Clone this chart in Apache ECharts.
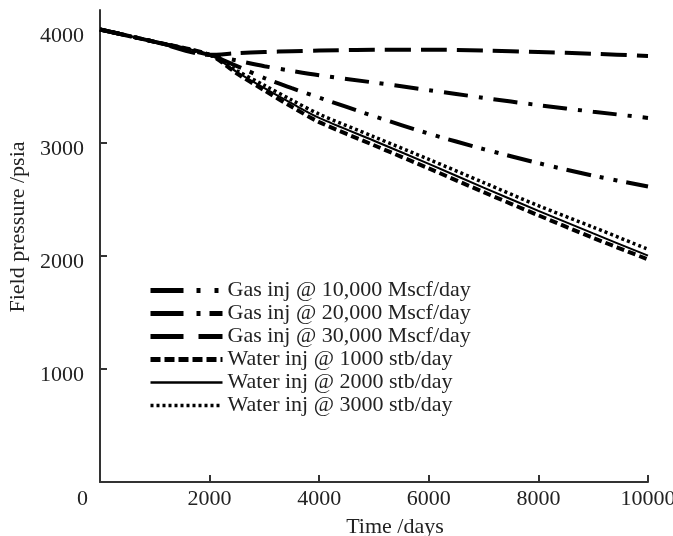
<!DOCTYPE html>
<html>
<head>
<meta charset="utf-8">
<script src="https://cdn.jsdelivr.net/npm/echarts@6/dist/echarts.min.js"></script>
<style>html,body{margin:0;padding:0;background:#fff}#c{width:673px;height:536px}</style>
</head>
<body>
<div id="c"></div>
<script>
var timeDays = [0, 1000, 2000, 2500, 3000, 3500, 4000, 5000, 6000, 7000, 8000, 9000, 10000];
var seriesNames = ['Gas inj @ 10,000 Mscf/day', 'Gas inj @ 20,000 Mscf/day', 'Gas inj @ 30,000 Mscf/day',
  'Water inj @ 1000 stb/day', 'Water inj @ 2000 stb/day', 'Water inj @ 3000 stb/day'];
var gas10000 = [4005, 3895, 3780, 3680, 3575, 3485, 3402, 3237, 3083, 2946, 2822, 2711, 2615];
var gas20000 = [4005, 3895, 3780, 3730, 3680, 3638, 3600, 3535, 3468, 3400, 3335, 3277, 3222];
var gas30000 = [4005, 3895, 3780, 3795, 3805, 3812, 3818, 3826, 3826, 3818, 3805, 3790, 3770];
var water1000 = [4005, 3895, 3780, 3615, 3465, 3320, 3185, 2980, 2775, 2565, 2360, 2160, 1970];
var water2000 = [4005, 3895, 3780, 3628, 3485, 3350, 3222, 3020, 2815, 2605, 2400, 2200, 2003];
var water3000 = [4005, 3895, 3780, 3640, 3510, 3380, 3255, 3055, 2855, 2650, 2445, 2255, 2060];
var xTicks = [0, 2000, 4000, 6000, 8000, 10000];
var yTicks = [1000, 2000, 3000, 4000];

var allValues = [gas10000, gas20000, gas30000, water1000, water2000, water3000];
var chartStyles = [
  {width: 4, type: [25, 9, 4, 10, 4, 9]},
  {width: 4, type: [24, 11, 4, 11]},
  {width: 4, type: [26, 10]},
  {width: 4, type: [8, 4]},
  {width: 2, type: 'solid'},
  {width: 3.5, type: [3, 3]}
];
var legendStyles = [
  {width: 5, type: [33, 13, 4, 14, 4, 20]},
  {width: 5, type: [33, 13, 4, 9]},
  {width: 5, type: [33, 15]},
  {width: 5, type: [10, 4]},
  {width: 2.5, type: 'solid'},
  {width: 3.5, type: [3, 3]}
];
var FONT = 'Liberation Serif';
var series = allValues.map(function (vals, i) {
  return {
    name: seriesNames[i],
    type: 'line',
    data: timeDays.map(function (t, k) { return [t, vals[k]]; }),
    symbol: 'none',
    smooth: 0.3,
    lineStyle: {color: '#000', width: chartStyles[i].width, type: chartStyles[i].type, cap: 'butt'},
    itemStyle: {color: '#000'},
    z: 10 - i
  };
});
var chart = echarts.init(document.getElementById('c'), null, {renderer: 'canvas'});
chart.setOption({
  animation: false,
  backgroundColor: '#fff',
  grid: {left: 100, right: 25, top: 10, bottom: 54, containLabel: false, outerBoundsMode: 'none'},
  legend: {
    orient: 'vertical',
    left: 143,
    top: 274,
    itemWidth: 72,
    itemHeight: 14,
    itemGap: 0,
    itemStyle: {color: 'rgba(0,0,0,0)', borderWidth: 0, opacity: 0},
    textStyle: {fontFamily: FONT, fontSize: 22, color: '#222', lineHeight: 23},
    data: seriesNames.map(function (n, i) {
      return {name: n, lineStyle: {color: '#000', width: legendStyles[i].width, type: legendStyles[i].type, cap: 'butt'}};
    })
  },
  xAxis: {
    type: 'value',
    min: 0,
    max: 10000,
    interval: 2000,
    name: 'Time /days',
    nameLocation: 'middle',
    nameGap: 34,
    nameTextStyle: {fontFamily: FONT, fontSize: 22, color: '#222', padding: [0, 0, 0, 42]},
    axisLine: {lineStyle: {color: '#333', width: 2}},
    axisTick: {inside: true, length: 7, lineStyle: {color: '#333', width: 2}, customValues: xTicks.slice(1)},
    axisLabel: {
      customValues: xTicks,
      margin: 6,
      fontFamily: FONT, fontSize: 22, color: '#222',
      formatter: function (v) { return v === 0 ? '{z|0}' : String(v); },
      rich: {z: {fontFamily: FONT, fontSize: 22, color: '#222', padding: [0, 35, 0, 0]}}
    },
    splitLine: {show: false}
  },
  yAxis: {
    type: 'value',
    min: 0,
    max: 4177,
    interval: 1000,
    name: 'Field pressure /psia',
    nameLocation: 'middle',
    nameGap: 68,
    nameRotate: 90,
    nameTextStyle: {fontFamily: FONT, fontSize: 22, color: '#222', padding: [0, 0, 0, 38]},
    axisLine: {lineStyle: {color: '#333', width: 2}},
    axisTick: {inside: true, length: 7, lineStyle: {color: '#333', width: 2}, customValues: yTicks},
    axisLabel: {
      customValues: yTicks,
      margin: 16,
      fontFamily: FONT, fontSize: 22, color: '#222',
      verticalAlign: 'top',
      lineHeight: 12,
      formatter: function (v) { return String(v); }
    },
    splitLine: {show: false}
  },
  series: series
});
</script>
</body>
</html>
